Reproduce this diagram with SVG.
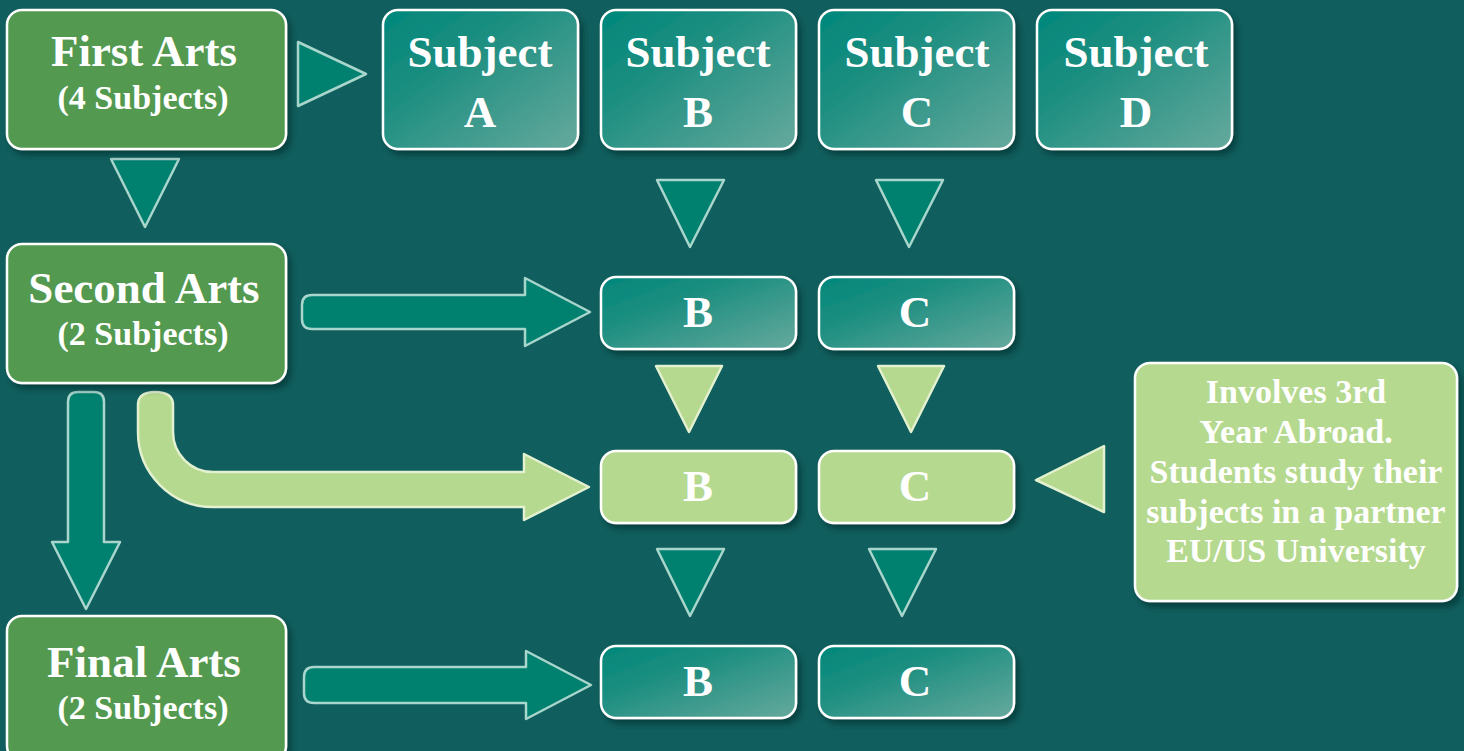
<svg xmlns="http://www.w3.org/2000/svg" width="1464" height="751" viewBox="0 0 1464 751">
<defs>
<linearGradient id="tealGrad" x1="0" y1="0" x2="1" y2="1">
<stop offset="0" stop-color="#00877a"/>
<stop offset="0.35" stop-color="#1b8e80"/>
<stop offset="1" stop-color="#66a99d"/>
</linearGradient>
<filter id="sh" x="-10%" y="-10%" width="125%" height="130%">
<feDropShadow dx="4" dy="5" stdDeviation="3" flood-color="#062f2e" flood-opacity="0.6"/>
</filter>
<style>
.box{stroke:#ffffff;stroke-width:2.5;filter:url(#sh)}
.green{fill:#529950}
.teal{fill:url(#tealGrad)}
.light{fill:#b5d98e}
.t{font-family:"Liberation Serif","Times New Roman",serif;font-weight:bold;fill:#ffffff;text-anchor:middle}
.big{font-size:45px}
.sm{font-size:34px}
.info{font-size:34px}
.tri{fill:#00806f;stroke:#a9d6cc;stroke-width:2.5;stroke-linejoin:round}
.ltri{fill:#b5d98e;stroke:#e3f1d0;stroke-width:2.5;stroke-linejoin:round}
</style>
</defs>
<rect width="1464" height="751" fill="#105f5e"/>

<g id="connectors">
<polygon class="tri" points="298,42 366,74 298,106"/>
<polygon class="tri" points="111,159 179,159 145,227"/>
<polygon class="tri" points="657,180 724,180 690,247"/>
<polygon class="tri" points="876,180 943,180 909,247"/>
<polygon class="ltri" points="656,366 722,366 689,432"/>
<polygon class="ltri" points="878,366 944,366 911,432"/>
<polygon class="tri" points="657,549 724,549 690,616"/>
<polygon class="tri" points="869,549 936,549 902,616"/>
<polygon class="ltri" points="1104,446 1104,512 1036,480"/>
<path class="tri" d="M312,295 H525 V278 L590,312 L525,346 V329 H312 Q302,329 302,319 V305 Q302,295 312,295 Z"/>
<path class="tri" d="M314,667 H526 V651 L591,685 L526,719 V703 H314 Q304,703 304,693 V677 Q304,667 314,667 Z"/>
<path class="tri" d="M68,402 Q68,392 78,392 H94 Q104,392 104,402 V542 H120 L86,609 L52,542 H68 Z"/>
<path class="ltri" d="M138,405 Q138,392 155,392 Q173,392 173,405 V432 A40,40 0 0 0 213,472 H524 V454 L589,487 L524,520 V507 H213 A75,75 0 0 1 138,432 Z"/>
</g>

<g id="first-arts">
<rect class="box green" x="7" y="10" width="279" height="139" rx="15"/>
<text class="t big" x="144" y="66">First Arts</text>
<text class="t sm" x="143" y="109">(4 Subjects)</text>
</g>
<g id="second-arts">
<rect class="box green" x="7" y="244" width="279" height="139" rx="15"/>
<text class="t big" x="144" y="303">Second Arts</text>
<text class="t sm" x="143" y="345">(2 Subjects)</text>
</g>
<g id="final-arts">
<rect class="box green" x="7" y="616" width="279" height="145" rx="15"/>
<text class="t big" x="144" y="677">Final Arts</text>
<text class="t sm" x="143" y="719">(2 Subjects)</text>
</g>

<g id="subject-a">
<rect class="box teal" x="383" y="10" width="195" height="139" rx="15"/>
<text class="t big" x="480" y="67">Subject</text>
<text class="t big" x="480" y="127">A</text>
</g>
<g id="subject-b">
<rect class="box teal" x="601" y="10" width="195" height="139" rx="15"/>
<text class="t big" x="698" y="67">Subject</text>
<text class="t big" x="698" y="127">B</text>
</g>
<g id="subject-c">
<rect class="box teal" x="819" y="10" width="195" height="139" rx="15"/>
<text class="t big" x="917" y="67">Subject</text>
<text class="t big" x="917" y="127">C</text>
</g>
<g id="subject-d">
<rect class="box teal" x="1037" y="10" width="195" height="139" rx="15"/>
<text class="t big" x="1136" y="67">Subject</text>
<text class="t big" x="1136" y="127">D</text>
</g>

<g id="second-b">
<rect class="box teal" x="601" y="277" width="195" height="72" rx="15"/>
<text class="t big" x="698" y="327">B</text>
</g>
<g id="second-c">
<rect class="box teal" x="819" y="277" width="195" height="72" rx="15"/>
<text class="t big" x="915" y="327">C</text>
</g>
<g id="abroad-b">
<rect class="box light" x="601" y="451" width="195" height="72" rx="15"/>
<text class="t big" x="698" y="501">B</text>
</g>
<g id="abroad-c">
<rect class="box light" x="819" y="451" width="195" height="72" rx="15"/>
<text class="t big" x="915" y="501">C</text>
</g>
<g id="final-b">
<rect class="box teal" x="601" y="646" width="195" height="72" rx="15"/>
<text class="t big" x="698" y="696">B</text>
</g>
<g id="final-c">
<rect class="box teal" x="819" y="646" width="195" height="72" rx="15"/>
<text class="t big" x="915" y="696">C</text>
</g>

<g id="info">
<rect class="box light" x="1135" y="363" width="322" height="238" rx="15"/>
<text class="t info" x="1296" y="403">Involves 3rd</text>
<text class="t info" x="1296" y="443">Year Abroad.</text>
<text class="t info" x="1296" y="483">Students study their</text>
<text class="t info" x="1296" y="523">subjects in a partner</text>
<text class="t info" x="1296" y="562">EU/US University</text>
</g>
</svg>
